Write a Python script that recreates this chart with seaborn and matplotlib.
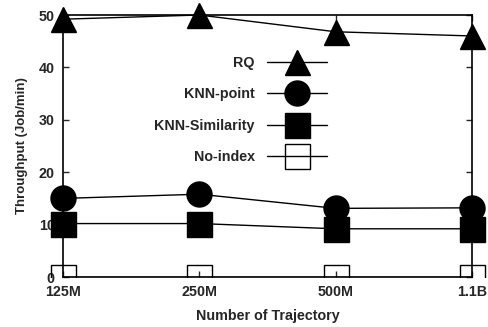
import matplotlib
matplotlib.use("Agg")
import matplotlib.pyplot as plt
from matplotlib.patches import Rectangle
import pandas as pd
import seaborn as sns

sizes = ["125M", "250M", "500M", "1.1B"]
rq = [49.2, 50.0, 46.8, 46.0]
knn_point = [15.0, 15.8, 13.1, 13.2]
knn_sim = [10.2, 10.2, 9.2, 9.2]
no_index = [0, 0, 0, 0]

series = [
    ("RQ", rq, "^", "black"),
    ("KNN-point", knn_point, "o", "black"),
    ("KNN-Similarity", knn_sim, "s", "black"),
    ("No-index", no_index, "s", "none"),
]

FS = 10.3

sns.set_style("ticks")
plt.rcParams["font.family"] = ["Liberation Sans", "DejaVu Sans"]
plt.rcParams["font.weight"] = "bold"

fig = plt.figure(figsize=(4.88, 3.27), dpi=100)
ax = fig.add_axes([0.1291, 0.1529, 0.8381, 0.8012])

for name, vals, mk, fc in series:
    df = pd.DataFrame({"size": sizes, "value": vals})
    sns.lineplot(data=df, x="size", y="value", ax=ax, color="black", linewidth=1,
                 marker=mk, markersize=18, markerfacecolor=fc,
                 markeredgecolor="black", markeredgewidth=1, label=name,
                 clip_on=False, zorder=3)

# gnuplot clips the bottom half of the zero-valued points
no_line = ax.get_lines()[-1]
clip = Rectangle((-0.2, 0), 1.4, 1.5, transform=ax.transAxes)
no_line.set_clip_on(True)
no_line.set_clip_path(clip)

ax.set_xlim(0, len(sizes) - 1)
ax.set_ylim(0, 50)
ax.set_yticks([0, 10, 20, 30, 40, 50])
ax.set_xlabel("Number of Trajectory", fontsize=FS, fontweight="bold", labelpad=7)
ax.set_ylabel("Throughput (Job/min)", fontsize=9.5, fontweight="bold", labelpad=7.5)
ax.tick_params(axis="both", direction="in", length=4, width=1, labelsize=FS,
               top=True, right=True, pad=6)
for sp in ax.spines.values():
    sp.set_linewidth(1.2)
    sp.set_color("black")

handles, labels = ax.get_legend_handles_labels()
ax.legend(handles, labels, loc="upper right", bbox_to_anchor=(0.662, 0.87),
          frameon=False, markerfirst=False, fontsize=FS, handlelength=4.2,
          labelspacing=1.2, borderpad=0, handletextpad=0.84)

fig.savefig("out.png", dpi=100)
